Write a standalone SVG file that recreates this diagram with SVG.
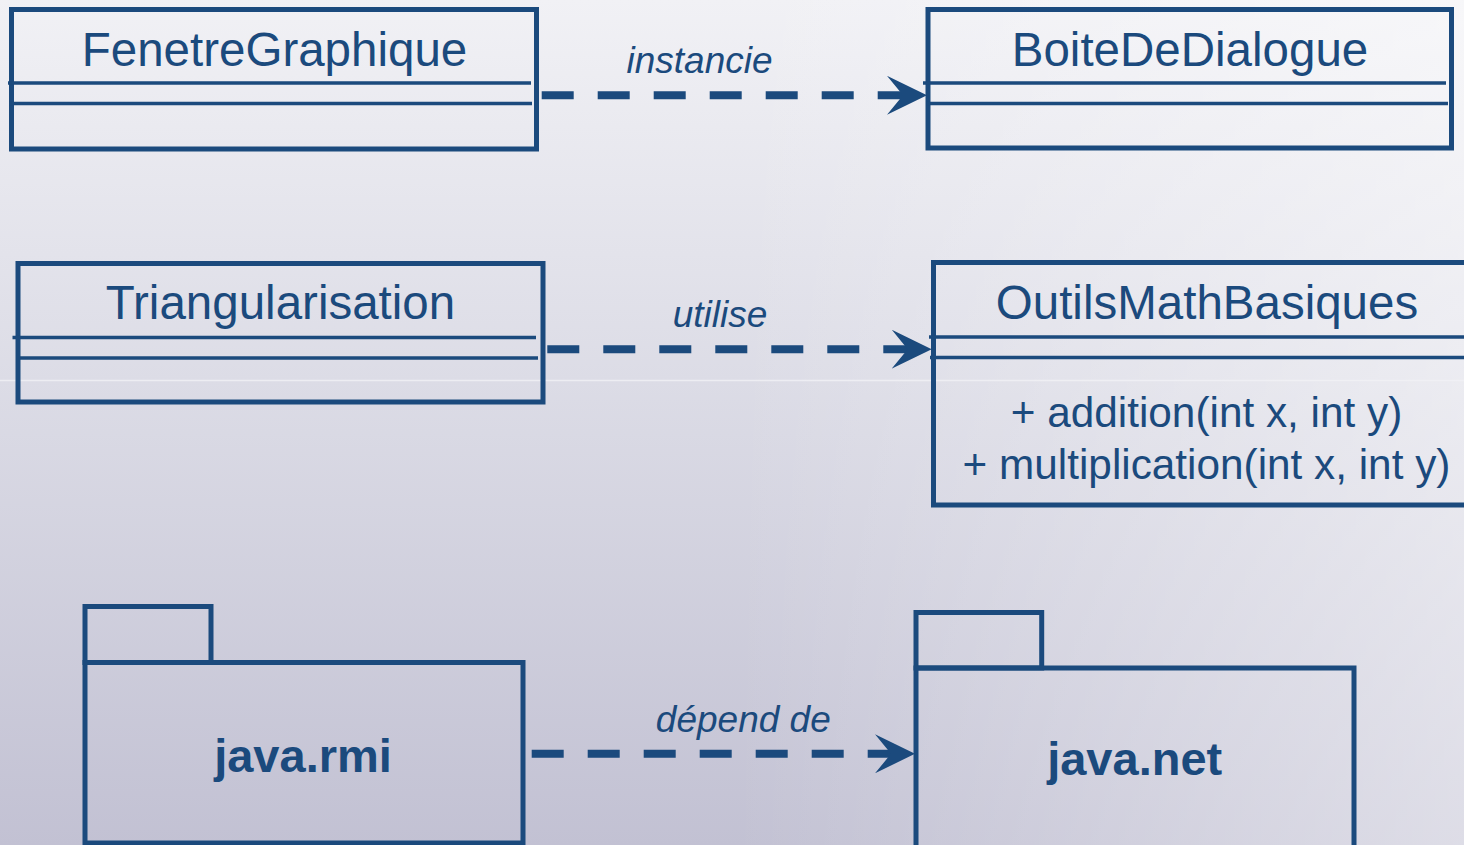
<svg xmlns="http://www.w3.org/2000/svg" width="1464" height="845" viewBox="0 0 1464 845">
  <defs>
    <linearGradient id="bg" x1="0" y1="0" x2="0" y2="1">
      <stop offset="0" stop-color="#f1f1f5"/>
      <stop offset="0.45" stop-color="#dcdce6"/>
      <stop offset="1" stop-color="#c2c1d3"/>
    </linearGradient>
    <linearGradient id="bgR" x1="0.5" y1="0" x2="1" y2="0">
      <stop offset="0" stop-color="#ffffff" stop-opacity="0"/>
      <stop offset="1" stop-color="#ffffff" stop-opacity="0.45"/>
    </linearGradient>
    <marker id="arrow" markerUnits="userSpaceOnUse" markerWidth="40" markerHeight="39" viewBox="0 0 40 39" refX="40" refY="19.5" orient="auto">
      <path d="M0,0 L40,19.5 L0,39 L16,19.5 Z" fill="#1b4a7d"/>
    </marker>
    <style>
      .box { fill: none; stroke: #1b4a7d; stroke-width: 5; }
      .sep { stroke: #1b4a7d; stroke-width: 3.5; }
      .title { font-family: "Liberation Sans", Arial, sans-serif; font-size: 47.5px; fill: #1b4a7d; text-anchor: middle; }
      .method { font-family: "Liberation Sans", Arial, sans-serif; font-size: 42.3px; fill: #1b4a7d; text-anchor: middle; }
      .pkg { font-family: "Liberation Sans", Arial, sans-serif; font-size: 47px; font-weight: bold; fill: #1b4a7d; text-anchor: middle; }
      .lbl { font-family: "Liberation Sans", Arial, sans-serif; font-size: 37px; font-style: italic; fill: #1b4a7d; text-anchor: middle; }
      .dep { fill: none; stroke: #1b4a7d; stroke-width: 8; stroke-dasharray: 32 24; marker-end: url(#arrow); }
    </style>
  </defs>

  <rect x="0" y="0" width="1464" height="845" fill="url(#bg)"/>
  <rect x="0" y="0" width="1464" height="845" fill="url(#bgR)"/>
  <line x1="0" y1="380.5" x2="1464" y2="380.5" stroke="#f2f2f6" stroke-width="1.5" opacity="0.8"/>

  <g id="FenetreGraphique">
    <rect class="box" x="11.5" y="9.5" width="525" height="139.5"/>
    <line class="sep" x1="8" y1="83" x2="531" y2="83"/>
    <line class="sep" x1="9" y1="103.5" x2="532" y2="103.5"/>
    <text class="title" x="274.5" y="65.5">FenetreGraphique</text>
  </g>

  <g id="BoiteDeDialogue">
    <rect class="box" x="928" y="9.5" width="523.5" height="138.5"/>
    <line class="sep" x1="923" y1="83" x2="1446" y2="83"/>
    <line class="sep" x1="927" y1="103.5" x2="1448" y2="103.5"/>
    <text class="title" x="1190" y="65.5">BoiteDeDialogue</text>
  </g>

  <g id="Triangularisation">
    <rect class="box" x="18" y="263.5" width="525" height="138.5"/>
    <line class="sep" x1="12.5" y1="337.5" x2="536" y2="337.5"/>
    <line class="sep" x1="19.5" y1="358" x2="538" y2="358"/>
    <text class="title" x="280.5" y="319">Triangularisation</text>
  </g>

  <g id="OutilsMathBasiques">
    <rect class="box" x="933.5" y="262.5" width="547" height="242.5"/>
    <line class="sep" x1="929" y1="337" x2="1464" y2="337"/>
    <line class="sep" x1="930" y1="357.5" x2="1464" y2="357.5"/>
    <text class="title" x="1207" y="319">OutilsMathBasiques</text>
    <text class="method" x="1206.5" y="427">+ addition(int x, int y)</text>
    <text class="method" x="1206.5" y="479">+ multiplication(int x, int y)</text>
  </g>

  <g id="java.rmi">
    <rect class="box" x="85" y="606.5" width="126" height="56"/>
    <rect class="box" x="85" y="662.5" width="438" height="180.5"/>
    <text class="pkg" x="303" y="771.5">java.rmi</text>
  </g>

  <g id="java.net">
    <rect class="box" x="916" y="612.5" width="125.7" height="55.5"/>
    <rect class="box" x="916" y="668" width="438" height="190"/>
    <text class="pkg" x="1134.7" y="775">java.net</text>
  </g>

  <g id="connectors">
    <line class="dep" x1="541.7" y1="95.3" x2="927" y2="95.3"/>
    <text class="lbl" x="699.5" y="73.3">instancie</text>
    <line class="dep" x1="547.3" y1="349.2" x2="931.7" y2="349.2"/>
    <text class="lbl" x="720" y="326.7">utilise</text>
    <line class="dep" x1="531.7" y1="753.8" x2="915" y2="753.8"/>
    <text class="lbl" x="743.3" y="731.7">dépend de</text>
  </g>
</svg>
